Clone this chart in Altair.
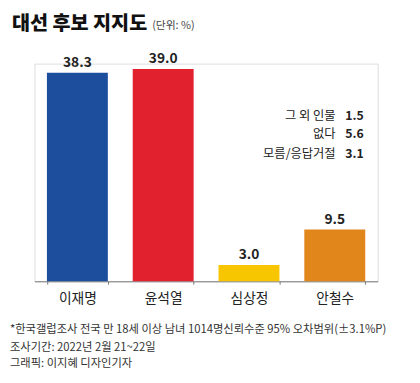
import altair as alt
import pandas as pd

candidates = ["이재명", "윤석열", "심상정", "안철수"]
support = [38.3, 39.0, 3.0, 9.5]
colors = ["#1C4E9D", "#E1212E", "#F7C600", "#E0861A"]
value_labels = ["38.3", "39.0", "3.0", "9.5"]

other_labels = ["그 외 인물", "없다", "모름/응답거절"]
other_values = ["1.5", "5.6", "3.1"]

title_text = "대선 후보 지지도"
unit_text = "(단위: %)"
notes = [
    "*한국갤럽조사 전국 만 18세 이상 남녀 1014명신뢰수준 95% 오차범위(±3.1%P)",
    "조사기간: 2022년 2월 21~22일",
    "그래픽: 이지혜 디자인기자",
]

FONT = "Noto Sans CJK KR"

df = pd.DataFrame({"name": candidates, "value": support, "label": value_labels, "color": colors})

x_enc = alt.X(
    "name:N",
    sort=candidates,
    scale=alt.Scale(paddingInner=0.29, paddingOuter=0.145),
    axis=alt.Axis(
        title=None, labelAngle=0, labelFont=FONT, labelFontSize=14, labelColor="#222",
        labelPadding=8, domainColor="#777", tickColor="#777", tickSize=3,
        tickBand="extent", domainWidth=1,
    ),
)
y_enc = alt.Y("value:Q", scale=alt.Scale(domain=[0, 40]), axis=None)

bars = alt.Chart(df).mark_bar().encode(
    x=x_enc, y=y_enc, color=alt.Color("color:N", scale=None)
)
labels = alt.Chart(df).mark_text(
    dy=-10, font=FONT, fontSize=14, fontWeight="bold", color="#222"
).encode(x=alt.X("name:N", sort=candidates), y=y_enc, text="label:N")


def text_layer(txt, x, y, **kw):
    return alt.Chart(pd.DataFrame({"t": [txt]})).mark_text(font=FONT, **kw).encode(
        x=alt.value(x), y=alt.value(y), text="t:N"
    )


layers = [bars, labels]
layers.append(text_layer(title_text, -23, -34, align="left", baseline="alphabetic",
                         fontSize=20, fontWeight=900, color="#111"))
layers.append(text_layer(unit_text, 120, -35, align="left", baseline="alphabetic",
                         fontSize=11, color="#444"))

row_y = [53, 72, 92]
for lab, val, yy in zip(other_labels, other_values, row_y):
    layers.append(text_layer(lab, 307, yy, align="right", baseline="middle",
                             fontSize=12.5, color="#222"))
    layers.append(text_layer(val, 317, yy, align="left", baseline="middle",
                             fontSize=12.5, fontWeight="bold", color="#222"))

note_y = [272, 290, 306]
for n, yy in zip(notes, note_y):
    layers.append(text_layer(n, -25, yy, align="left", baseline="middle",
                             fontSize=11.5, color="#333"))

chart = alt.layer(*layers).properties(
    width=350, height=222,
    padding={"left": 27, "top": 53, "right": 35, "bottom": 100},
    autosize=alt.AutoSizeParams(type="none"),
).configure_view(stroke=None).configure(background="white")

chart.save("out.html", embed_options={"renderer": "svg", "actions": False})
